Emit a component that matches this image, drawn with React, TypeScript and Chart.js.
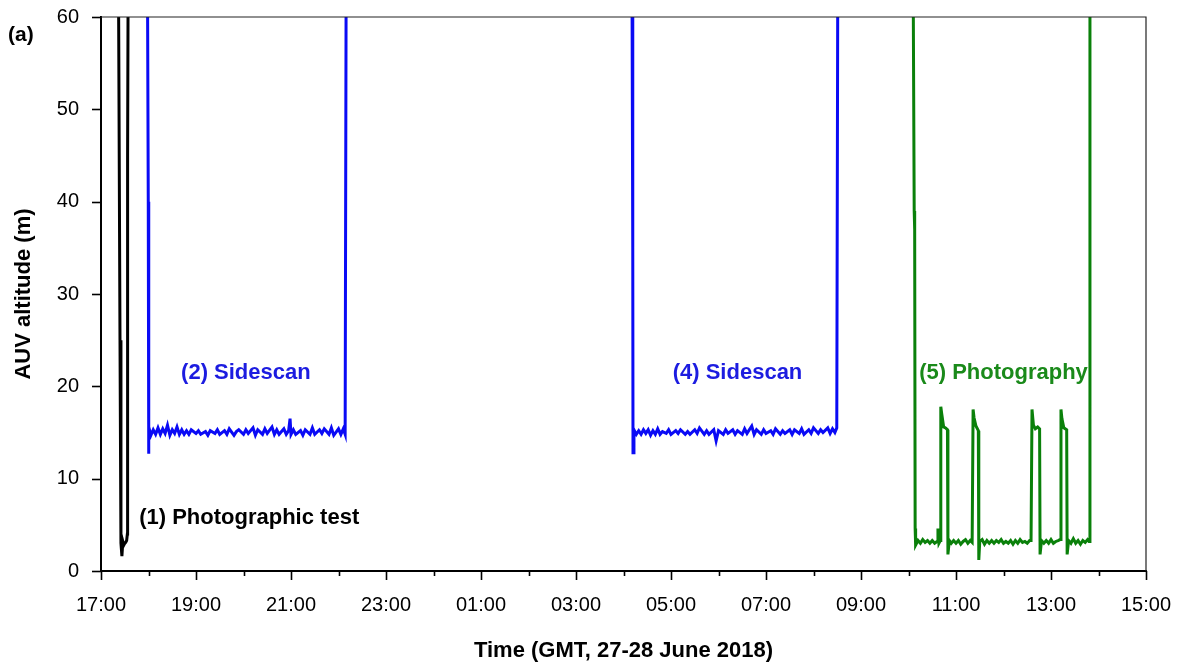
import React, { useEffect, useRef } from "react";
import { Chart, registerables } from "chart.js";

Chart.register(...registerables);

// Hours after 17:00 GMT, 27 June 2018 (axis runs 17:00 -> 15:00 next day)
const xTickHours = [0, 2, 4, 6, 8, 10, 12, 14, 16, 18, 20, 22];
const xTickLabels = ["17:00", "19:00", "21:00", "23:00", "01:00", "03:00", "05:00", "07:00", "09:00", "11:00", "13:00", "15:00"];
const yTicks = [0, 10, 20, 30, 40, 50, 60];

// (1) Photographic test
const dive1Time = [0.37, 0.4, 0.42, 0.44, 0.46, 0.48, 0.5, 0.52, 0.54, 0.555, 0.56, 0.57];
const dive1Alt = [62, 25, 3.0, 1.6, 3.2, 2.8, 3.0, 3.1, 3.3, 4.0, 45, 62];

// (2) Sidescan
const dive2Time = [0.98, 0.995, 1.0, 1.01, 1.05, 1.1, 1.15, 1.2, 1.25, 1.3, 1.35, 1.4, 1.45, 1.5, 1.55, 1.6, 1.65, 1.7, 1.75, 1.8, 1.85, 1.9, 2.0, 2.05, 2.1, 2.2, 2.25, 2.3, 2.4, 2.45, 2.5, 2.6, 2.65, 2.7, 2.8, 2.85, 2.9, 3.0, 3.05, 3.1, 3.2, 3.25, 3.3, 3.4, 3.45, 3.5, 3.6, 3.65, 3.7, 3.75, 3.85, 3.9, 3.95, 3.98, 4.0, 4.05, 4.1, 4.2, 4.25, 4.3, 4.4, 4.45, 4.5, 4.6, 4.65, 4.7, 4.8, 4.85, 4.9, 5.0, 5.05, 5.1, 5.14, 5.16];
const dive2Alt = [62, 40, 12.7, 15.6, 14.7, 15.3, 14.8, 15.5, 14.8, 15.4, 14.9, 15.8, 14.7, 15.3, 14.9, 15.6, 14.8, 15.3, 14.8, 15.2, 14.8, 15.3, 14.9, 15.2, 14.8, 15.1, 14.7, 15.2, 14.9, 15.3, 14.8, 15.2, 14.8, 15.4, 14.7, 15.1, 15.3, 14.8, 15.3, 14.9, 15.5, 14.7, 15.3, 14.8, 15.4, 14.9, 15.6, 14.8, 15.3, 14.8, 15.4, 14.8, 15.2, 16.5, 14.8, 15.3, 14.8, 15.2, 14.7, 15.3, 14.8, 15.5, 14.8, 15.3, 14.9, 15.4, 14.8, 15.5, 14.7, 15.4, 14.8, 15.4, 14.8, 62];

// (4) Sidescan
const dive4Time = [11.18, 11.195, 11.2, 11.22, 11.27, 11.32, 11.37, 11.42, 11.47, 11.52, 11.57, 11.62, 11.67, 11.72, 11.77, 11.82, 11.9, 11.95, 12.0, 12.1, 12.15, 12.2, 12.3, 12.35, 12.4, 12.5, 12.55, 12.6, 12.7, 12.75, 12.8, 12.9, 12.95, 13.0, 13.1, 13.15, 13.2, 13.3, 13.35, 13.4, 13.5, 13.55, 13.6, 13.7, 13.75, 13.8, 13.9, 13.95, 14.0, 14.1, 14.15, 14.2, 14.3, 14.35, 14.4, 14.5, 14.55, 14.6, 14.7, 14.75, 14.8, 14.9, 14.95, 15.0, 15.1, 15.15, 15.2, 15.3, 15.35, 15.4, 15.45, 15.49, 15.51];
const dive4Alt = [62, 35, 12.8, 15.3, 14.8, 15.2, 14.8, 15.3, 14.9, 15.3, 14.7, 15.2, 14.8, 15.4, 14.8, 15.1, 14.9, 15.3, 14.8, 15.2, 14.9, 15.3, 14.8, 15.1, 14.8, 15.3, 14.9, 15.5, 14.8, 15.2, 14.8, 15.3, 14.1, 15.2, 14.8, 15.3, 14.9, 15.3, 14.8, 15.2, 14.8, 15.4, 14.9, 15.7, 14.8, 15.3, 14.8, 15.3, 14.9, 15.2, 14.8, 15.4, 14.8, 15.2, 14.9, 15.3, 14.8, 15.3, 14.9, 15.4, 14.8, 15.3, 14.9, 15.5, 14.9, 15.3, 15.0, 15.5, 14.9, 15.4, 15.0, 15.5, 62];

// (5) Photography
const dive5Time = [17.1, 17.112, 17.12, 17.13, 17.14, 17.15, 17.2, 17.25, 17.3, 17.35, 17.4, 17.45, 17.5, 17.55, 17.6, 17.62, 17.64, 17.67, 17.68, 17.7, 17.74, 17.78, 17.82, 17.83, 17.86, 17.9, 17.95, 18.0, 18.05, 18.1, 18.15, 18.2, 18.25, 18.3, 18.34, 18.36, 18.38, 18.42, 18.47, 18.48, 18.5, 18.55, 18.6, 18.65, 18.7, 18.75, 18.8, 18.85, 18.9, 18.95, 19.0, 19.05, 19.1, 19.15, 19.2, 19.25, 19.3, 19.35, 19.4, 19.45, 19.5, 19.55, 19.58, 19.6, 19.63, 19.67, 19.72, 19.76, 19.77, 19.8, 19.85, 19.9, 19.95, 20.0, 20.05, 20.1, 20.15, 20.19, 20.21, 20.23, 20.27, 20.33, 20.34, 20.37, 20.42, 20.47, 20.52, 20.57, 20.62, 20.67, 20.72, 20.77, 20.8, 20.82];
const dive5Alt = [62, 62, 39, 37, 4.6, 2.8, 3.3, 3.0, 3.4, 3.1, 3.3, 3.0, 3.3, 3.0, 3.2, 4.6, 3.0, 3.3, 17.8, 17.0, 15.6, 15.5, 15.3, 1.8, 3.3, 3.0, 3.3, 3.0, 3.3, 2.9, 3.2, 3.4, 3.0, 3.3, 3.1, 17.5, 16.6, 15.7, 15.2, 1.2, 3.2, 3.4, 2.9, 3.3, 3.0, 3.3, 3.0, 3.3, 3.1, 3.4, 3.0, 3.2, 3.0, 3.3, 2.9, 3.3, 3.0, 3.4, 3.1, 3.2, 3.0, 3.3, 3.3, 17.5, 15.8, 15.4, 15.6, 15.4, 1.8, 3.3, 3.0, 3.3, 3.0, 3.4, 3.0, 3.2, 3.3, 3.4, 17.5, 16.5, 15.5, 15.3, 1.8, 3.3, 3.0, 3.5, 3.0, 3.3, 2.9, 3.3, 3.1, 3.4, 3.2, 62];

// Annotation texts (hours, altitude)
const noteText = ["(1) Photographic test", "(2) Sidescan", "(4) Sidescan", "(5) Photography"];
const noteHour = [3.12, 3.05, 13.4, 19.0];
const noteAlt = [5.8, 21.4, 21.4, 21.4];
const noteColor = ["#000000", "#1c1ce0", "#1c1ce0", "#1a8a1a"];

const pts = (t: number[], v: number[]) => t.map((x, i) => ({ x, y: v[i] }));

const zeroPad = (s: any) => {
  s.paddingTop = 0;
  s.paddingBottom = 0;
  s.paddingLeft = 0;
  s.paddingRight = 0;
};

const decorPlugin = {
  id: "decor",
  afterDraw(chart: any) {
    const { ctx, chartArea, scales } = chart;
    const xs = scales.x;
    const ys = scales.y;
    ctx.save();
    // top & right frame
    ctx.strokeStyle = "#222";
    ctx.lineWidth = 1.2;
    ctx.beginPath();
    ctx.moveTo(chartArea.left, chartArea.top);
    ctx.lineTo(chartArea.right, chartArea.top);
    ctx.lineTo(chartArea.right, chartArea.bottom);
    ctx.stroke();
    // x tick marks (major every 2 h, minor every hour)
    ctx.strokeStyle = "#000";
    ctx.lineWidth = 1.6;
    for (let h = 0; h <= 22; h++) {
      const px = Math.round(xs.getPixelForValue(h)) + 0.5;
      const len = xTickHours.includes(h) ? 9 : 5;
      ctx.beginPath();
      ctx.moveTo(px, chartArea.bottom);
      ctx.lineTo(px, chartArea.bottom + len);
      ctx.stroke();
    }
    yTicks.forEach((v) => {
      const py = Math.round(ys.getPixelForValue(v)) + 0.5;
      ctx.beginPath();
      ctx.moveTo(chartArea.left, py);
      ctx.lineTo(chartArea.left - 9, py);
      ctx.stroke();
    });
    // annotations
    ctx.font = "bold 22px 'Liberation Sans', Arial, sans-serif";
    ctx.textAlign = "center";
    ctx.textBaseline = "middle";
    noteText.forEach((t, i) => {
      ctx.fillStyle = noteColor[i];
      ctx.fillText(t, xs.getPixelForValue(noteHour[i]), ys.getPixelForValue(noteAlt[i]));
    });
    // panel label
    ctx.fillStyle = "#000";
    ctx.textAlign = "left";
    ctx.font = "bold 21px 'Liberation Sans', Arial, sans-serif";
    ctx.fillText("(a)", 8, 35);
    ctx.restore();
  },
};

export default function App() {
  const ref = useRef<HTMLCanvasElement>(null);
  useEffect(() => {
    document.body.style.margin = "0";
    const lineDs = (t: number[], v: number[], color: string) => ({
      data: pts(t, v),
      borderColor: color,
      borderWidth: 3,
      pointRadius: 0,
      tension: 0,
      clip: 0,
    });
    const chart = new Chart(ref.current!, {
      type: "line",
      data: {
        datasets: [
          lineDs(dive1Time, dive1Alt, "#000000"),
          lineDs(dive2Time, dive2Alt, "#0a0af5"),
          lineDs(dive4Time, dive4Alt, "#0a0af5"),
          lineDs(dive5Time, dive5Alt, "#0a800a"),
        ],
      },
      options: {
        animation: false,
        responsive: false,
        events: [],
        layout: { padding: { top: 17, right: 36, left: 0, bottom: 0 } },
        plugins: { legend: { display: false }, tooltip: { enabled: false } },
        scales: {
          x: {
            type: "linear",
            min: 0,
            max: 22,
            afterFit: (s: any) => {
              s.height = 93;
              zeroPad(s);
            },
            afterBuildTicks: (s: any) => {
              s.ticks = xTickHours.map((v) => ({ value: v }));
            },
            grid: { display: false, drawTicks: false },
            border: { display: true, color: "#000", width: 2 },
            ticks: {
              autoSkip: false,
              maxRotation: 0,
              padding: 22,
              color: "#000",
              font: { family: "'Liberation Sans', Arial, sans-serif", size: 20 },
              callback: (v: any) => xTickLabels[xTickHours.indexOf(Number(v))] ?? "",
            },
            title: {
              display: true,
              text: "Time (GMT, 27-28 June 2018)",
              color: "#000",
              font: { family: "'Liberation Sans', Arial, sans-serif", size: 22, weight: "bold" },
              padding: { top: 0, bottom: 0 },
            },
          },
          y: {
            min: 0,
            max: 60,
            afterFit: (s: any) => {
              s.width = 101;
              zeroPad(s);
            },
            afterBuildTicks: (s: any) => {
              s.ticks = yTicks.map((v) => ({ value: v }));
            },
            grid: { display: false, drawTicks: false },
            border: { display: true, color: "#000", width: 2 },
            ticks: {
              padding: 22,
              color: "#000",
              font: { family: "'Liberation Sans', Arial, sans-serif", size: 20 },
            },
            title: {
              display: true,
              text: "AUV altitude (m)",
              color: "#000",
              font: { family: "'Liberation Sans', Arial, sans-serif", size: 22, weight: "bold" },
              padding: { top: 11, bottom: 0 },
            },
          },
        },
      },
      plugins: [decorPlugin],
    });
    return () => chart.destroy();
  }, []);
  return (
    <div style={{ width: 1182, height: 664, background: "#fff" }}>
      <canvas ref={ref} width={1182} height={664} style={{ display: "block" }} />
    </div>
  );
}
